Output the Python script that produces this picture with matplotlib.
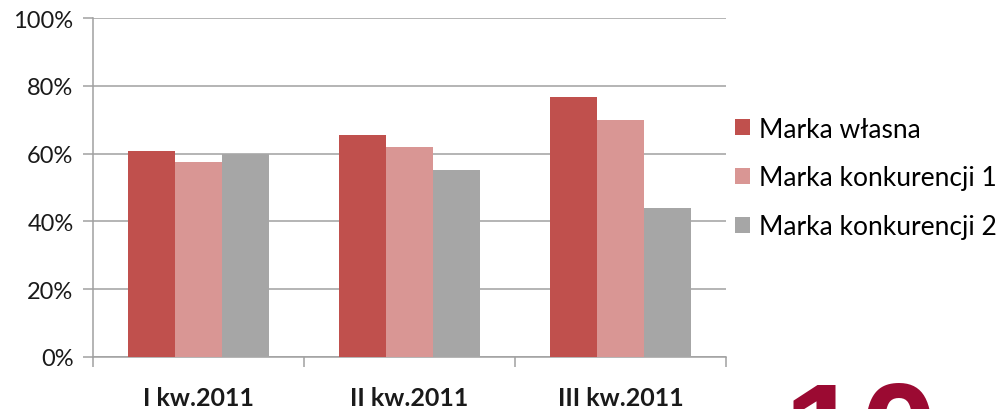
import numpy as np
import matplotlib.pyplot as plt
from matplotlib.patches import Patch

categories = ["I kw.2011", "II kw.2011", "III kw.2011"]
series_names = ["Marka własna", "Marka konkurencji 1", "Marka konkurencji 2"]
marka_wlasna = [60.8, 65.5, 76.7]
konkurencja_1 = [57.5, 62.0, 69.9]
konkurencja_2 = [60.0, 55.2, 44.0]
y_ticks = [0, 20, 40, 60, 80, 100]

colors = ["#C0504D", "#D99694", "#A6A6A6"]
grid_color = "#A0A0A0"

plt.rcParams['font.family'] = ['Lato', 'DejaVu Sans']

fig = plt.figure(figsize=(9.98, 4.10), dpi=100)
ax = fig.add_axes([93 / 998, 1 - 358 / 410, 633 / 998, 339 / 410])

x = np.arange(len(categories))
width = 0.222
for i, (vals, name) in enumerate(zip([marka_wlasna, konkurencja_1, konkurencja_2], series_names)):
    ax.bar(x + (i - 1) * width, vals, width, color=colors[i], label=name, zorder=3)

ax.set_xlim(-0.5, len(categories) - 0.5)
ax.set_ylim(0, 100)
ax.set_yticks(y_ticks)
ax.set_yticklabels([f"{t}%" for t in y_ticks], fontsize=17, color="#1a1a1a")
ax.yaxis.grid(True, color=grid_color, linewidth=1.1, zorder=0)
ax.tick_params(axis='y', length=7, width=1.1, color=grid_color, pad=7)

ax.set_xticks(x)
ax.set_xticklabels(categories, fontsize=18, fontweight='bold', color="#1a1a1a")
ax.tick_params(axis='x', which='major', length=0, pad=21)
ax.set_xticks(np.arange(len(categories) + 1) - 0.5, minor=True)
ax.tick_params(axis='x', which='minor', length=7, width=1.1, color=grid_color)

for side in ['top', 'right']:
    ax.spines[side].set_visible(False)
for side in ['left', 'bottom']:
    ax.spines[side].set_color(grid_color)
    ax.spines[side].set_linewidth(1.1)

handles = [Patch(facecolor=c, edgecolor='none') for c in colors]
fig.legend(handles, series_names, loc='center left', bbox_to_anchor=(735 / 998, 1 - 179 / 410),
           frameon=False, fontsize=19, handlelength=0.55, handleheight=0.55,
           handletextpad=0.35, labelspacing=0.9, borderaxespad=0, borderpad=0)

fig.text(783 / 998, 1 - 481 / 410, "10", fontsize=100, fontweight='bold',
         color="#9B0A32", family='Liberation Sans', ha='left', va='baseline')

fig.savefig("out.png", dpi=100)
